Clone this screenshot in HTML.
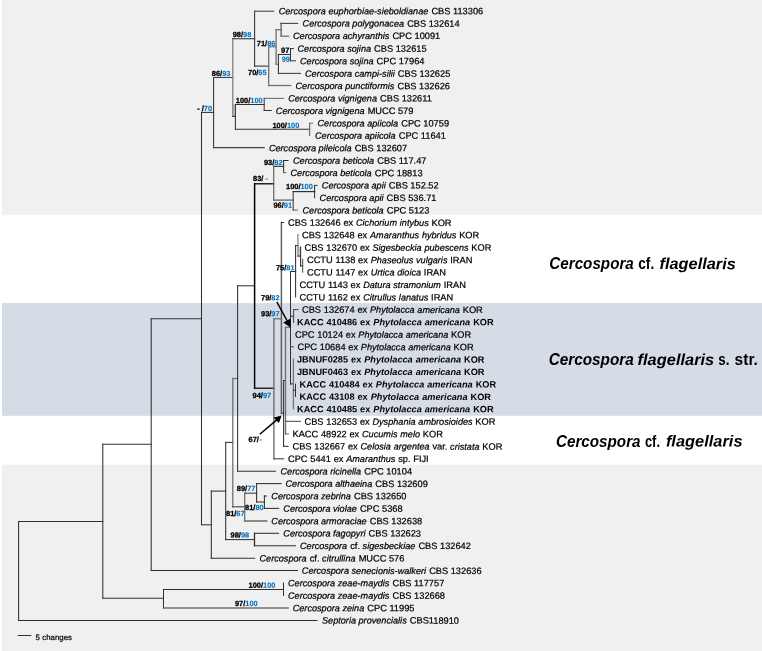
<!DOCTYPE html>
<html><head><meta charset="utf-8"><title>Phylogenetic tree</title>
<style>html,body{margin:0;padding:0;background:#fff;}svg{display:block;will-change:transform;}</style></head>
<body>
<svg width="762" height="651" viewBox="0 0 762 651">
<rect x="0" y="0" width="762" height="651" fill="#fff"/>
<rect x="2" y="0" width="760" height="214.8" fill="#f0f0f0"/>
<rect x="2" y="303.1" width="760" height="112.7" fill="#d6dce5"/>
<rect x="2" y="464.7" width="760" height="186.3" fill="#f0f0f0"/>
<rect x="298.3" y="247" width="1.6" height="9.1" fill="#c4c4c4"/>
<rect x="232.8" y="104.5" width="2.6" height="11.9" fill="#c4c4c4"/>
<g stroke="#303030" stroke-width="1.05" fill="none" stroke-linecap="square">
<line x1="18.6" y1="521.5" x2="18.6" y2="620.4"/>
<line x1="18.6" y1="620.4" x2="317" y2="620.4"/>
<line x1="18.6" y1="521.5" x2="102.8" y2="521.5"/>
<line x1="102.8" y1="444.2" x2="102.8" y2="598.3"/>
<line x1="102.8" y1="598.3" x2="163.5" y2="598.3"/>
<line x1="102.8" y1="444.2" x2="151.2" y2="444.2"/>
<line x1="163.5" y1="589.5" x2="163.5" y2="607.9"/>
<line x1="163.5" y1="589.5" x2="283.5" y2="589.5"/>
<line x1="283.5" y1="583" x2="283.5" y2="595.4"/>
<line x1="163.5" y1="607.9" x2="288" y2="607.9" stroke-width="1.5" stroke="#707070"/>
<line x1="151.2" y1="318.75" x2="151.2" y2="570.4"/>
<line x1="151.2" y1="570.4" x2="297.5" y2="570.4"/>
<line x1="151.2" y1="318.75" x2="201.5" y2="318.75"/>
<line x1="201.5" y1="112.4" x2="201.5" y2="524.8"/>
<line x1="201.5" y1="524.8" x2="211.3" y2="524.8"/>
<line x1="201.5" y1="112.4" x2="213.6" y2="112.4"/>
<line x1="211.3" y1="491.1" x2="211.3" y2="558.2"/>
<line x1="211.3" y1="558.2" x2="254.6" y2="558.2"/>
<line x1="211.3" y1="491.1" x2="225.7" y2="491.1"/>
<line x1="225.7" y1="442.4" x2="225.7" y2="539.6"/>
<line x1="225.7" y1="539.6" x2="254.5" y2="539.6"/>
<line x1="254.5" y1="533.3" x2="254.5" y2="545.7" stroke-width="1.3"/>
<line x1="254.5" y1="533.3" x2="278.6" y2="533.3"/>
<line x1="254.5" y1="545.7" x2="295.5" y2="545.7"/>
<line x1="225.7" y1="442.4" x2="232.8" y2="442.4"/>
<line x1="232.8" y1="378.5" x2="232.8" y2="506.8" stroke-width="1.3" stroke="#707070"/>
<line x1="232.8" y1="506.8" x2="244.7" y2="506.8" stroke-width="1.1" stroke="#444"/>
<line x1="232.8" y1="378.5" x2="237.6" y2="378.5" stroke-width="1.2" stroke="#707070"/>
<line x1="244.7" y1="493.2" x2="244.7" y2="521" stroke-width="1.3" stroke="#707070"/>
<line x1="244.7" y1="521" x2="266.5" y2="521" stroke-width="1.6" stroke="#707070"/>
<line x1="244.7" y1="493.2" x2="256.6" y2="493.2" stroke-width="1.1" stroke="#444"/>
<line x1="256.6" y1="483.6" x2="256.6" y2="502"/>
<line x1="256.6" y1="483.6" x2="281.1" y2="483.6"/>
<line x1="256.6" y1="502" x2="264.4" y2="502"/>
<line x1="264.4" y1="496" x2="264.4" y2="508.4"/>
<line x1="264.4" y1="496" x2="266.5" y2="496"/>
<line x1="264.4" y1="508.4" x2="278.6" y2="508.4"/>
<line x1="237.6" y1="285.8" x2="237.6" y2="471.3"/>
<line x1="237.6" y1="471.3" x2="275.6" y2="471.3"/>
<line x1="237.6" y1="285.8" x2="254.6" y2="285.8"/>
<line x1="254.6" y1="183.8" x2="254.6" y2="388.2" stroke-width="1.5" stroke="#000"/>
<line x1="254.6" y1="183.8" x2="273.7" y2="183.8" stroke-width="1.3" stroke="#000"/>
<line x1="254.6" y1="388.2" x2="273.9" y2="388.2" stroke-width="1.2" stroke="#000"/>
<line x1="273.7" y1="166.4" x2="273.7" y2="200.1" stroke-width="1.3" stroke="#707070"/>
<line x1="273.7" y1="166.4" x2="283.6" y2="166.4" stroke-width="1.2" stroke="#444"/>
<line x1="273.7" y1="200.1" x2="293.2" y2="200.1" stroke-width="1.4" stroke="#707070"/>
<line x1="283.6" y1="160.5" x2="283.6" y2="172.6"/>
<line x1="283.6" y1="160.5" x2="288" y2="160.5"/>
<line x1="283.6" y1="172.6" x2="285.9" y2="172.6" stroke-width="1.0" stroke="#707070"/>
<line x1="293.2" y1="191.6" x2="293.2" y2="210.1" stroke-width="1.1" stroke="#444"/>
<line x1="293.2" y1="210.1" x2="297.3" y2="210.1" stroke-width="1.1" stroke="#707070"/>
<line x1="293.2" y1="191.6" x2="314.6" y2="191.6" stroke-width="1.2"/>
<line x1="314.6" y1="185.4" x2="314.6" y2="197.6"/>
<line x1="314.6" y1="185.4" x2="317" y2="185.4" stroke-width="1.1" stroke="#444"/>
<line x1="273.9" y1="318.7" x2="273.9" y2="458.8" stroke-width="1.4" stroke="#707070"/>
<line x1="273.9" y1="458.8" x2="283.6" y2="458.8" stroke-width="1.1" stroke="#444"/>
<line x1="273.9" y1="318.7" x2="281.5" y2="318.7" stroke-width="1.3" stroke="#707070"/>
<line x1="281.4" y1="222.5" x2="281.4" y2="413.2" stroke-width="1.45" stroke="#5c5c5c"/>
<line x1="281.5" y1="222.5" x2="283.6" y2="222.5"/>
<line x1="281.5" y1="413.2" x2="283.6" y2="413.2"/>
<line x1="283.6" y1="380.5" x2="283.6" y2="446.3"/>
<line x1="283.6" y1="446.3" x2="288" y2="446.3"/>
<line x1="283.6" y1="380.5" x2="285.5" y2="380.5"/>
<line x1="285.5" y1="327.4" x2="285.5" y2="433.9" stroke-width="1.4" stroke="#707070"/>
<line x1="285.5" y1="433.9" x2="288.4" y2="433.9" stroke-width="1.1" stroke="#707070"/>
<line x1="285.5" y1="421.3" x2="300.5" y2="421.3" stroke-width="1.0" stroke="#444"/>
<line x1="285.5" y1="327.4" x2="290.5" y2="327.4" stroke-width="1.3" stroke="#707070"/>
<line x1="290.5" y1="271.5" x2="290.5" y2="383.9"/>
<line x1="290.5" y1="383.9" x2="293.4" y2="383.9"/>
<line x1="290.5" y1="346.8" x2="293.4" y2="346.8" stroke-width="1.0" stroke="#444"/>
<line x1="290.5" y1="316.2" x2="293.6" y2="316.2"/>
<line x1="290.5" y1="271.5" x2="295.6" y2="271.5"/>
<line x1="293.6" y1="309.6" x2="293.6" y2="322.4" stroke-width="1.0" stroke="#444"/>
<line x1="293.6" y1="309.6" x2="298" y2="309.6" stroke-width="1.0" stroke="#444"/>
<line x1="293.4" y1="359" x2="293.4" y2="408.8" stroke-width="1.2" stroke="#707070"/>
<line x1="293.4" y1="390.2" x2="295.5" y2="390.2"/>
<line x1="295.5" y1="384.2" x2="295.5" y2="396.4"/>
<line x1="295.6" y1="245.6" x2="295.6" y2="297"/>
<line x1="295.6" y1="245.6" x2="297.95" y2="245.6"/>
<line x1="297.95" y1="234.4" x2="297.95" y2="256.1" stroke-width="1.1" stroke="#707070"/>
<line x1="297.95" y1="256.1" x2="300.6" y2="256.1"/>
<line x1="300.6" y1="247" x2="300.6" y2="265.9"/>
<line x1="300.6" y1="265.9" x2="302.7" y2="265.9"/>
<line x1="302.7" y1="259.3" x2="302.7" y2="272.2" stroke-width="1.0" stroke="#444"/>
<line x1="213.6" y1="77.5" x2="213.6" y2="147.6"/>
<line x1="213.6" y1="147.6" x2="264.2" y2="147.6" stroke-width="1.1" stroke="#444"/>
<line x1="213.6" y1="77.5" x2="232.8" y2="77.5" stroke-width="1.1" stroke="#444"/>
<line x1="232.8" y1="38.7" x2="232.8" y2="116.4" stroke-width="1.3" stroke="#808080"/>
<line x1="232.8" y1="116.4" x2="235.4" y2="116.4"/>
<line x1="232.8" y1="38.7" x2="254.6" y2="38.7" stroke-width="1.2" stroke="#444"/>
<line x1="235.4" y1="104.5" x2="235.4" y2="129.2"/>
<line x1="235.4" y1="104.5" x2="264.2" y2="104.5"/>
<line x1="235.4" y1="129.2" x2="309.6" y2="129.2"/>
<line x1="264.2" y1="98.4" x2="264.2" y2="110.5" stroke-width="1.1" stroke="#444"/>
<line x1="264.2" y1="98.4" x2="283.5" y2="98.4" stroke-width="1.1" stroke="#707070"/>
<line x1="264.2" y1="110.5" x2="271.3" y2="110.5"/>
<line x1="309.6" y1="123.3" x2="309.6" y2="135.5" stroke-width="1.2" stroke="#707070"/>
<line x1="309.6" y1="123.3" x2="312.4" y2="123.3" stroke-width="1.1" stroke="#707070"/>
<line x1="254.6" y1="11.2" x2="254.6" y2="66.1"/>
<line x1="254.6" y1="11.2" x2="273.6" y2="11.2" stroke-width="1.1" stroke="#444"/>
<line x1="254.6" y1="66.1" x2="268.7" y2="66.1"/>
<line x1="268.7" y1="46.8" x2="268.7" y2="85.5" stroke-width="1.3" stroke="#707070"/>
<line x1="268.7" y1="85.5" x2="290.6" y2="85.5" stroke-width="1.3" stroke="#707070"/>
<line x1="268.7" y1="46.8" x2="276.1" y2="46.8" stroke-width="1.2" stroke="#707070"/>
<line x1="276.1" y1="29.7" x2="276.1" y2="64.2" stroke-width="1.3" stroke="#707070"/>
<line x1="276.1" y1="29.7" x2="281.1" y2="29.7" stroke-width="1.2" stroke="#707070"/>
<line x1="276.1" y1="64.2" x2="278.4" y2="64.2" stroke-width="1.0" stroke="#707070"/>
<line x1="281.1" y1="23.4" x2="281.1" y2="36.2" stroke-width="1.1" stroke="#444"/>
<line x1="281.1" y1="23.4" x2="297.7" y2="23.4" stroke-width="1.1" stroke="#444"/>
<line x1="281.1" y1="36.2" x2="288.6" y2="36.2" stroke-width="1.3" stroke="#707070"/>
<line x1="278.4" y1="54.5" x2="278.4" y2="73.4"/>
<line x1="278.4" y1="73.4" x2="300.5" y2="73.4" stroke-width="1.1" stroke="#444"/>
<line x1="278.4" y1="54.5" x2="290.5" y2="54.5"/>
<line x1="290.5" y1="48.6" x2="290.5" y2="60.8"/>
<line x1="290.5" y1="48.6" x2="293.3" y2="48.6"/>
<line x1="290.5" y1="60.8" x2="295.4" y2="60.8" stroke-width="1.1" stroke="#444"/>
<line x1="18.3" y1="635.5" x2="30.8" y2="635.5"/>
</g>
<g stroke="#000" stroke-width="1.5" fill="#000">
<line x1="276.8" y1="301.8" x2="287.5" y2="321.5"/>
<polygon points="290.5,327.6 290.6,318.6 283.2,322.6" stroke="none"/>
<line x1="259.8" y1="434.3" x2="277" y2="419.6"/>
<polygon points="281.7,415.5 273.6,417.4 278.9,423" stroke="none"/>
</g>
<g font-family="Liberation Sans, sans-serif" font-size="9.26" fill="#000">
<text transform="translate(278.7 14.15) matrix(1 0.0005 0 1 0 0)" stroke="#000" stroke-width="0.22" xml:space="preserve"><tspan font-style="italic" font-size="9.13">Cercospora euphorbiae-sieboldianae</tspan><tspan dx="0.5"> CBS 113306</tspan></text>
<text transform="translate(302.6 26.58) matrix(1 0.0005 0 1 0 0)" stroke="#000" stroke-width="0.22" xml:space="preserve"><tspan font-style="italic" font-size="9.13">Cercospora polygonacea</tspan><tspan dx="0.5"> CBS 132614</tspan></text>
<text transform="translate(293.0 39.01) matrix(1 0.0005 0 1 0 0)" stroke="#000" stroke-width="0.22" xml:space="preserve"><tspan font-style="italic" font-size="9.13">Cercospora achyranthis</tspan><tspan dx="0.5"> CPC 10091</tspan></text>
<text transform="translate(297.5 51.79) matrix(1 0.0005 0 1 0 0)" stroke="#000" stroke-width="0.22" xml:space="preserve"><tspan font-style="italic" font-size="9.13">Cercospora sojina</tspan><tspan dx="0.5"> CBS 132615</tspan></text>
<text transform="translate(300.0 64.22) matrix(1 0.0005 0 1 0 0)" stroke="#000" stroke-width="0.22" xml:space="preserve"><tspan font-style="italic" font-size="9.13">Cercospora sojina</tspan><tspan dx="0.5"> CPC 17964</tspan></text>
<text transform="translate(305.0 76.65) matrix(1 0.0005 0 1 0 0)" stroke="#000" stroke-width="0.22" xml:space="preserve"><tspan font-style="italic" font-size="9.13">Cercospora campi-silii</tspan><tspan dx="0.5"> CBS 132625</tspan></text>
<text transform="translate(295.5 89.08) matrix(1 0.0005 0 1 0 0)" stroke="#000" stroke-width="0.22" xml:space="preserve"><tspan font-style="italic" font-size="9.13">Cercospora punctiformis</tspan><tspan dx="0.5"> CBS 132626</tspan></text>
<text transform="translate(288.2 101.51) matrix(1 0.0005 0 1 0 0)" stroke="#000" stroke-width="0.22" xml:space="preserve"><tspan font-style="italic" font-size="9.13">Cercospora vignigena</tspan><tspan dx="0.5"> CBS 132611</tspan></text>
<text transform="translate(275.8 113.94) matrix(1 0.0005 0 1 0 0)" stroke="#000" stroke-width="0.22" xml:space="preserve"><tspan font-style="italic" font-size="9.13">Cercospora vignigena</tspan><tspan dx="0.5"> MUCC 579</tspan></text>
<text transform="translate(317.5 126.37) matrix(1 0.0005 0 1 0 0)" stroke="#000" stroke-width="0.22" xml:space="preserve"><tspan font-style="italic" font-size="9.13">Cercospora apiicola</tspan><tspan dx="0.5"> CPC 10759</tspan></text>
<text transform="translate(315.0 138.8) matrix(1 0.0005 0 1 0 0)" stroke="#000" stroke-width="0.22" xml:space="preserve"><tspan font-style="italic" font-size="9.13">Cercospora apiicola</tspan><tspan dx="0.5"> CPC 11641</tspan></text>
<text transform="translate(268.9 151.23) matrix(1 0.0005 0 1 0 0)" stroke="#000" stroke-width="0.22" xml:space="preserve"><tspan font-style="italic" font-size="9.13">Cercospora pileicola</tspan><tspan dx="0.5"> CBS 132607</tspan></text>
<text transform="translate(293.0 163.66) matrix(1 0.0005 0 1 0 0)" stroke="#000" stroke-width="0.22" xml:space="preserve"><tspan font-style="italic" font-size="9.13">Cercospora beticola</tspan><tspan dx="0.5"> CBS 117.47</tspan></text>
<text transform="translate(290.5 176.09) matrix(1 0.0005 0 1 0 0)" stroke="#000" stroke-width="0.22" xml:space="preserve"><tspan font-style="italic" font-size="9.13">Cercospora beticola</tspan><tspan dx="0.5"> CPC 18813</tspan></text>
<text transform="translate(321.8 188.52) matrix(1 0.0005 0 1 0 0)" stroke="#000" stroke-width="0.22" xml:space="preserve"><tspan font-style="italic" font-size="9.13">Cercospora apii</tspan><tspan dx="0.5"> CBS 152.52</tspan></text>
<text transform="translate(319.6 200.95) matrix(1 0.0005 0 1 0 0)" stroke="#000" stroke-width="0.22" xml:space="preserve"><tspan font-style="italic" font-size="9.13">Cercospora apii</tspan><tspan dx="0.5"> CBS 536.71</tspan></text>
<text transform="translate(302.5 213.38) matrix(1 0.0005 0 1 0 0)" stroke="#000" stroke-width="0.22" xml:space="preserve"><tspan font-style="italic" font-size="9.13">Cercospora beticola</tspan><tspan dx="0.5"> CPC 5123</tspan></text>
<text transform="translate(288.0 225.81) matrix(1 0.0005 0 1 0 0)" stroke="#000" stroke-width="0.22" word-spacing="0.2" xml:space="preserve"><tspan>CBS 132646 ex </tspan><tspan font-style="italic" font-size="9.13">Cichorium intybus</tspan><tspan> KOR</tspan></text>
<text transform="translate(302.0 238.24) matrix(1 0.0005 0 1 0 0)" stroke="#000" stroke-width="0.22" word-spacing="0.2" xml:space="preserve"><tspan>CBS 132648 ex </tspan><tspan font-style="italic" font-size="9.13">Amaranthus hybridus</tspan><tspan> KOR</tspan></text>
<text transform="translate(304.5 250.67) matrix(1 0.0005 0 1 0 0)" stroke="#000" stroke-width="0.22" word-spacing="0.2" xml:space="preserve"><tspan>CBS 132670 ex </tspan><tspan font-style="italic" font-size="9.13">Sigesbeckia pubescens</tspan><tspan> KOR</tspan></text>
<text transform="translate(307.0 263.1) matrix(1 0.0005 0 1 0 0)" stroke="#000" stroke-width="0.22" word-spacing="0.2" xml:space="preserve"><tspan>CCTU 1138 ex </tspan><tspan font-style="italic" font-size="9.13">Phaseolus vulgaris</tspan><tspan> IRAN</tspan></text>
<text transform="translate(307.0 275.53) matrix(1 0.0005 0 1 0 0)" stroke="#000" stroke-width="0.22" word-spacing="0.2" xml:space="preserve"><tspan>CCTU 1147 ex </tspan><tspan font-style="italic" font-size="9.13">Urtica dioica</tspan><tspan> IRAN</tspan></text>
<text transform="translate(299.5 287.96) matrix(1 0.0005 0 1 0 0)" stroke="#000" stroke-width="0.22" word-spacing="0.2" xml:space="preserve"><tspan>CCTU 1143 ex </tspan><tspan font-style="italic" font-size="9.13">Datura stramonium</tspan><tspan> IRAN</tspan></text>
<text transform="translate(299.5 300.39) matrix(1 0.0005 0 1 0 0)" stroke="#000" stroke-width="0.22" word-spacing="0.2" xml:space="preserve"><tspan>CCTU 1162 ex </tspan><tspan font-style="italic" font-size="9.13">Citrullus lanatus</tspan><tspan> IRAN</tspan></text>
<text transform="translate(302.0 312.82) matrix(1 0.0005 0 1 0 0)" stroke="#000" stroke-width="0.22" word-spacing="0.2" xml:space="preserve"><tspan>CBS 132674 ex </tspan><tspan font-style="italic" font-size="9.13">Phytolacca americana</tspan><tspan> KOR</tspan></text>
<text transform="translate(297.0 325.25) matrix(1 0.0005 0 1 0 0)" font-weight="bold" font-size="9.19" word-spacing="0.4" xml:space="preserve"><tspan>KACC 410486 ex </tspan><tspan font-style="italic">Phytolacca americana</tspan><tspan> KOR</tspan></text>
<text transform="translate(295.0 337.68) matrix(1 0.0005 0 1 0 0)" stroke="#000" stroke-width="0.22" word-spacing="0.2" xml:space="preserve"><tspan>CPC 10124 ex </tspan><tspan font-style="italic" font-size="9.13">Phytolacca americana</tspan><tspan> KOR</tspan></text>
<text transform="translate(297.5 350.11) matrix(1 0.0005 0 1 0 0)" stroke="#000" stroke-width="0.22" word-spacing="0.2" xml:space="preserve"><tspan>CPC 10684 ex </tspan><tspan font-style="italic" font-size="9.13">Phytolacca americana</tspan><tspan> KOR</tspan></text>
<text transform="translate(297.0 362.54) matrix(1 0.0005 0 1 0 0)" font-weight="bold" font-size="9.19" word-spacing="0.4" xml:space="preserve"><tspan>JBNUF0285 ex </tspan><tspan font-style="italic">Phytolacca americana</tspan><tspan> KOR</tspan></text>
<text transform="translate(297.0 374.97) matrix(1 0.0005 0 1 0 0)" font-weight="bold" font-size="9.19" word-spacing="0.4" xml:space="preserve"><tspan>JBNUF0463 ex </tspan><tspan font-style="italic">Phytolacca americana</tspan><tspan> KOR</tspan></text>
<text transform="translate(299.5 387.4) matrix(1 0.0005 0 1 0 0)" font-weight="bold" font-size="9.19" word-spacing="0.4" xml:space="preserve"><tspan>KACC 410484 ex </tspan><tspan font-style="italic">Phytolacca americana</tspan><tspan> KOR</tspan></text>
<text transform="translate(299.5 399.83) matrix(1 0.0005 0 1 0 0)" font-weight="bold" font-size="9.19" word-spacing="0.4" xml:space="preserve"><tspan>KACC 43108 ex </tspan><tspan font-style="italic">Phytolacca americana</tspan><tspan> KOR</tspan></text>
<text transform="translate(297.0 412.26) matrix(1 0.0005 0 1 0 0)" font-weight="bold" font-size="9.19" word-spacing="0.4" xml:space="preserve"><tspan>KACC 410485 ex </tspan><tspan font-style="italic">Phytolacca americana</tspan><tspan> KOR</tspan></text>
<text transform="translate(304.5 424.69) matrix(1 0.0005 0 1 0 0)" stroke="#000" stroke-width="0.22" word-spacing="0.2" xml:space="preserve"><tspan>CBS 132653 ex </tspan><tspan font-style="italic" font-size="9.13">Dysphania ambrosioides</tspan><tspan> KOR</tspan></text>
<text transform="translate(292.5 437.12) matrix(1 0.0005 0 1 0 0)" stroke="#000" stroke-width="0.22" word-spacing="0.2" xml:space="preserve"><tspan>KACC 48922 ex </tspan><tspan font-style="italic" font-size="9.13">Cucumis melo</tspan><tspan> KOR</tspan></text>
<text transform="translate(292.5 449.55) matrix(1 0.0005 0 1 0 0)" stroke="#000" stroke-width="0.22" word-spacing="0.2" xml:space="preserve"><tspan>CBS 132667 ex </tspan><tspan font-style="italic" font-size="9.13">Celosia argentea</tspan><tspan> var. </tspan><tspan font-style="italic" font-size="9.13">cristata</tspan><tspan> KOR</tspan></text>
<text transform="translate(288.0 461.98) matrix(1 0.0005 0 1 0 0)" stroke="#000" stroke-width="0.22" word-spacing="0.2" xml:space="preserve"><tspan>CPC 5441 ex </tspan><tspan font-style="italic" font-size="9.13">Amaranthus</tspan><tspan> sp. FIJI</tspan></text>
<text transform="translate(280.5 474.41) matrix(1 0.0005 0 1 0 0)" stroke="#000" stroke-width="0.22" xml:space="preserve"><tspan font-style="italic" font-size="9.13">Cercospora ricinella</tspan><tspan dx="0.5"> CPC 10104</tspan></text>
<text transform="translate(285.5 486.84) matrix(1 0.0005 0 1 0 0)" stroke="#000" stroke-width="0.22" xml:space="preserve"><tspan font-style="italic" font-size="9.13">Cercospora althaeina</tspan><tspan dx="0.5"> CBS 132609</tspan></text>
<text transform="translate(271.3 499.27) matrix(1 0.0005 0 1 0 0)" stroke="#000" stroke-width="0.22" xml:space="preserve"><tspan font-style="italic" font-size="9.13">Cercospora zebrina</tspan><tspan dx="0.5"> CBS 132650</tspan></text>
<text transform="translate(283.3 511.7) matrix(1 0.0005 0 1 0 0)" stroke="#000" stroke-width="0.22" xml:space="preserve"><tspan font-style="italic" font-size="9.13">Cercospora violae</tspan><tspan dx="0.5"> CPC 5368</tspan></text>
<text transform="translate(271.3 524.13) matrix(1 0.0005 0 1 0 0)" stroke="#000" stroke-width="0.22" xml:space="preserve"><tspan font-style="italic" font-size="9.13">Cercospora armoraciae</tspan><tspan dx="0.5"> CBS 132638</tspan></text>
<text transform="translate(283.3 536.56) matrix(1 0.0005 0 1 0 0)" stroke="#000" stroke-width="0.22" xml:space="preserve"><tspan font-style="italic" font-size="9.13">Cercospora fagopyri</tspan><tspan dx="0.5"> CBS 132623</tspan></text>
<text transform="translate(300.0 548.99) matrix(1 0.0005 0 1 0 0)" stroke="#000" stroke-width="0.22" xml:space="preserve"><tspan font-style="italic" font-size="9.13">Cercospora</tspan><tspan dx="0.5"> cf. </tspan><tspan font-style="italic" font-size="9.13">sigesbeckiae</tspan><tspan dx="0.5"> CBS 132642</tspan></text>
<text transform="translate(259.5 561.42) matrix(1 0.0005 0 1 0 0)" stroke="#000" stroke-width="0.22" xml:space="preserve"><tspan font-style="italic" font-size="9.13">Cercospora</tspan><tspan dx="0.5"> cf. </tspan><tspan font-style="italic" font-size="9.13">citrullina</tspan><tspan dx="0.5"> MUCC 576</tspan></text>
<text transform="translate(301.8 573.85) matrix(1 0.0005 0 1 0 0)" stroke="#000" stroke-width="0.22" xml:space="preserve"><tspan font-style="italic" font-size="9.13">Cercospora senecionis-walkeri</tspan><tspan dx="0.5"> CBS 132636</tspan></text>
<text transform="translate(288.0 586.28) matrix(1 0.0005 0 1 0 0)" stroke="#000" stroke-width="0.22" xml:space="preserve"><tspan font-style="italic" font-size="9.13">Cercospora zeae-maydis</tspan><tspan dx="0.5"> CBS 117757</tspan></text>
<text transform="translate(288.0 598.71) matrix(1 0.0005 0 1 0 0)" stroke="#000" stroke-width="0.22" xml:space="preserve"><tspan font-style="italic" font-size="9.13">Cercospora zeae-maydis</tspan><tspan dx="0.5"> CBS 132668</tspan></text>
<text transform="translate(292.7 611.14) matrix(1 0.0005 0 1 0 0)" stroke="#000" stroke-width="0.22" xml:space="preserve"><tspan font-style="italic" font-size="9.13">Cercospora zeina</tspan><tspan dx="0.5"> CPC 11995</tspan></text>
<text transform="translate(322.0 623.57) matrix(1 0.0005 0 1 0 0)" stroke="#000" stroke-width="0.22" xml:space="preserve"><tspan font-style="italic" font-size="9.13">Septoria provencialis</tspan><tspan dx="0.5"> CBS118910</tspan></text>
</g>
<g font-family="Liberation Sans, sans-serif" font-size="7.45" font-weight="bold" fill="#000">
<text transform="translate(232.7 36.9) matrix(1 0.0005 0 1 0 0)" stroke="#000" stroke-width="0.3" xml:space="preserve">98/<tspan fill="#0070c0" stroke="#0070c0" stroke-width="0.1">98</tspan></text>
<text transform="translate(256.8 46.1) matrix(1 0.0005 0 1 0 0)" stroke="#000" stroke-width="0.3" xml:space="preserve">71/<tspan fill="#0070c0" stroke="#0070c0" stroke-width="0.1">86</tspan></text>
<text transform="translate(281.1 52.8) matrix(1 0.0005 0 1 0 0)" stroke="#000" stroke-width="0.3" xml:space="preserve">97<tspan fill="#0070c0" stroke="#0070c0" stroke-width="0.1"></tspan></text>
<text transform="translate(281.7 61.8) matrix(1 0.0005 0 1 0 0)" stroke="#000" stroke-width="0.3" xml:space="preserve"><tspan fill="#0070c0" stroke="#0070c0" stroke-width="0.1">99</tspan></text>
<text transform="translate(248.0 74.9) matrix(1 0.0005 0 1 0 0)" stroke="#000" stroke-width="0.3" xml:space="preserve">70/<tspan fill="#0070c0" stroke="#0070c0" stroke-width="0.1">65</tspan></text>
<text transform="translate(211.8 75.9) matrix(1 0.0005 0 1 0 0)" stroke="#000" stroke-width="0.3" xml:space="preserve">86/<tspan fill="#0070c0" stroke="#0070c0" stroke-width="0.1">93</tspan></text>
<text transform="translate(235.8 103.1) matrix(1 0.0005 0 1 0 0)" stroke="#000" stroke-width="0.3" xml:space="preserve">100/<tspan fill="#0070c0" stroke="#0070c0" stroke-width="0.1">100</tspan></text>
<text transform="translate(197.2 111.1) matrix(1 0.0005 0 1 0 0)" stroke="#000" stroke-width="0.3" xml:space="preserve">- /<tspan fill="#0070c0" stroke="#0070c0" stroke-width="0.1">70</tspan></text>
<text transform="translate(272.4 128.1) matrix(1 0.0005 0 1 0 0)" stroke="#000" stroke-width="0.3" xml:space="preserve">100/<tspan fill="#0070c0" stroke="#0070c0" stroke-width="0.1">100</tspan></text>
<text transform="translate(263.9 165.0) matrix(1 0.0005 0 1 0 0)" stroke="#000" stroke-width="0.3" xml:space="preserve">93/<tspan fill="#0070c0" stroke="#0070c0" stroke-width="0.1">82</tspan></text>
<text transform="translate(253.0 180.9) matrix(1 0.0005 0 1 0 0)" stroke="#000" stroke-width="0.3" xml:space="preserve">83/<tspan fill="#0070c0" stroke="#0070c0" stroke-width="0.1"> -</tspan></text>
<text transform="translate(286.0 189.0) matrix(1 0.0005 0 1 0 0)" stroke="#000" stroke-width="0.3" xml:space="preserve">100/<tspan fill="#0070c0" stroke="#0070c0" stroke-width="0.1">100</tspan></text>
<text transform="translate(273.4 207.7) matrix(1 0.0005 0 1 0 0)" stroke="#000" stroke-width="0.3" xml:space="preserve">96/<tspan fill="#0070c0" stroke="#0070c0" stroke-width="0.1">91</tspan></text>
<text transform="translate(275.9 270.2) matrix(1 0.0005 0 1 0 0)" stroke="#000" stroke-width="0.3" xml:space="preserve">75/<tspan fill="#0070c0" stroke="#0070c0" stroke-width="0.1">81</tspan></text>
<text transform="translate(261.0 300.3) matrix(1 0.0005 0 1 0 0)" stroke="#000" stroke-width="0.3" xml:space="preserve">79/<tspan fill="#0070c0" stroke="#0070c0" stroke-width="0.1">82</tspan></text>
<text transform="translate(261.0 316.2) matrix(1 0.0005 0 1 0 0)" stroke="#000" stroke-width="0.3" xml:space="preserve">93/<tspan fill="#0070c0" stroke="#0070c0" stroke-width="0.1">97</tspan></text>
<text transform="translate(252.6 398.1) matrix(1 0.0005 0 1 0 0)" stroke="#000" stroke-width="0.3" xml:space="preserve">94/<tspan fill="#0070c0" stroke="#0070c0" stroke-width="0.1">97</tspan></text>
<text transform="translate(248.6 442.0) matrix(1 0.0005 0 1 0 0)" stroke="#000" stroke-width="0.3" xml:space="preserve">67/<tspan fill="#0070c0" stroke="#0070c0" stroke-width="0.1" dx="0.6">-</tspan></text>
<text transform="translate(236.8 490.9) matrix(1 0.0005 0 1 0 0)" stroke="#000" stroke-width="0.3" xml:space="preserve">89/<tspan fill="#0070c0" stroke="#0070c0" stroke-width="0.1">77</tspan></text>
<text transform="translate(245.1 509.9) matrix(1 0.0005 0 1 0 0)" stroke="#000" stroke-width="0.3" xml:space="preserve">81/<tspan fill="#0070c0" stroke="#0070c0" stroke-width="0.1">80</tspan></text>
<text transform="translate(226.0 516.1) matrix(1 0.0005 0 1 0 0)" stroke="#000" stroke-width="0.3" xml:space="preserve">81/<tspan fill="#0070c0" stroke="#0070c0" stroke-width="0.1">67</tspan></text>
<text transform="translate(230.6 537.4) matrix(1 0.0005 0 1 0 0)" stroke="#000" stroke-width="0.3" xml:space="preserve">98/<tspan fill="#0070c0" stroke="#0070c0" stroke-width="0.1">98</tspan></text>
<text transform="translate(248.6 587.8) matrix(1 0.0005 0 1 0 0)" stroke="#000" stroke-width="0.3" xml:space="preserve">100/<tspan fill="#0070c0" stroke="#0070c0" stroke-width="0.1">100</tspan></text>
<text transform="translate(234.9 606.1) matrix(1 0.0005 0 1 0 0)" stroke="#000" stroke-width="0.3" xml:space="preserve">97/<tspan fill="#0070c0" stroke="#0070c0" stroke-width="0.1">100</tspan></text>
</g>
<text transform="translate(35.6 639.9) matrix(1 0.0005 0 1 0 0)" font-family="Liberation Sans, sans-serif" font-size="7.9" fill="#000" stroke="#000" stroke-width="0.2">5 changes</text>
<g font-family="Liberation Sans, sans-serif" font-size="16" font-weight="bold" fill="#000">
<text transform="translate(549.3 269.1) matrix(1 0.0005 0 1 0 0)" font-style="italic" textLength="84.5" lengthAdjust="spacingAndGlyphs">Cercospora</text>
<text transform="translate(638.2 269.1) matrix(1 0.0005 0 1 0 0)" textLength="16.0" lengthAdjust="spacingAndGlyphs">cf.</text>
<text transform="translate(659.5 269.1) matrix(1 0.0005 0 1 0 0)" font-style="italic" textLength="76.3" lengthAdjust="spacingAndGlyphs">flagellaris</text>
<text transform="translate(548.7 365.0) matrix(1 0.0005 0 1 0 0)" font-style="italic" textLength="85.1" lengthAdjust="spacingAndGlyphs">Cercospora</text>
<text transform="translate(637.6 365.0) matrix(1 0.0005 0 1 0 0)" font-style="italic" textLength="76.6" lengthAdjust="spacingAndGlyphs">flagellaris</text>
<text transform="translate(718.3 365.0) matrix(1 0.0005 0 1 0 0)" textLength="11.1" lengthAdjust="spacingAndGlyphs">s.</text>
<text transform="translate(734.6 365.0) matrix(1 0.0005 0 1 0 0)" textLength="23.3" lengthAdjust="spacingAndGlyphs">str.</text>
<text transform="translate(556.0 446.5) matrix(1 0.0005 0 1 0 0)" font-style="italic" textLength="84.5" lengthAdjust="spacingAndGlyphs">Cercospora</text>
<text transform="translate(644.9 446.5) matrix(1 0.0005 0 1 0 0)" textLength="15.1" lengthAdjust="spacingAndGlyphs">cf.</text>
<text transform="translate(665.9 446.5) matrix(1 0.0005 0 1 0 0)" font-style="italic" textLength="76.6" lengthAdjust="spacingAndGlyphs">flagellaris</text>
</g>
</svg>
</body></html>
